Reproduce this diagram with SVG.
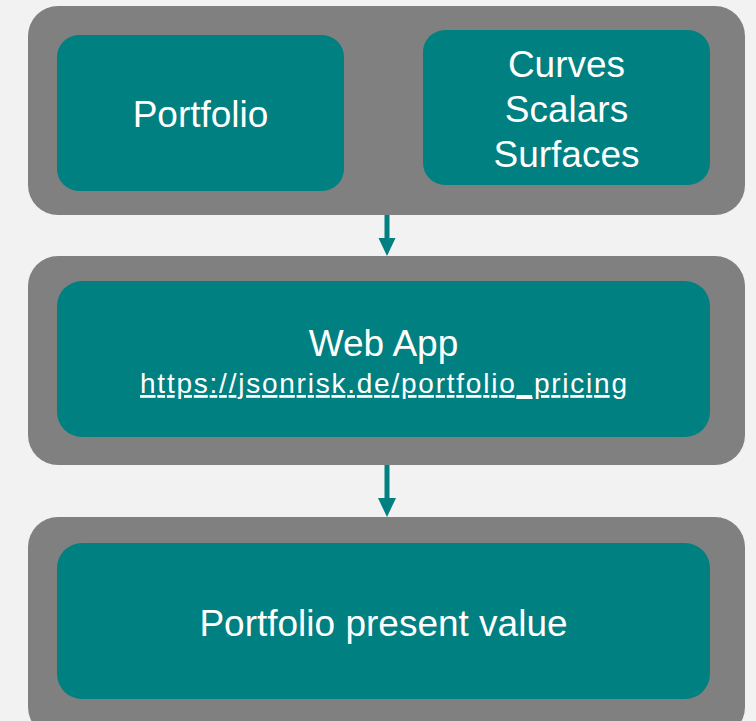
<svg xmlns="http://www.w3.org/2000/svg" width="756" height="721" viewBox="0 0 756 721">
<style>
.outer{fill:#808080}
.inner{fill:#008080}
.t{font-family:"Liberation Sans",Arial,sans-serif;fill:#ffffff;text-anchor:middle}
.big{font-size:37px}
.url{font-size:28px;text-decoration:underline}
.conn{stroke:#008080;stroke-width:5;fill:none}
.head{fill:#008080}
</style>
<rect x="0" y="0" width="756" height="721" fill="#f2f2f2"/>
<g id="inputs">
  <rect class="outer" x="28" y="6" width="717" height="209" rx="30" ry="30"/>
  <g id="portfolio">
    <rect class="inner" x="57" y="35" width="287" height="156" rx="22" ry="22"/>
    <text class="t big" x="200.5" y="127">Portfolio</text>
  </g>
  <g id="market-data">
    <rect class="inner" x="423" y="30" width="287" height="155" rx="22" ry="22"/>
    <text class="t big" x="566.5" y="77">Curves</text>
    <text class="t big" x="566.5" y="122">Scalars</text>
    <text class="t big" x="566.5" y="167">Surfaces</text>
  </g>
</g>
<g id="webapp">
  <rect class="outer" x="28" y="256" width="717" height="209" rx="30" ry="30"/>
  <rect class="inner" x="57" y="281" width="653" height="156" rx="25" ry="25"/>
  <text class="t big" x="383.5" y="356">Web App</text>
  <text class="t url" x="383.5" y="393" textLength="487" lengthAdjust="spacing">https://jsonrisk.de/portfolio_pricing</text>
</g>
<g id="result">
  <rect class="outer" x="28" y="517" width="717" height="220" rx="30" ry="30"/>
  <rect class="inner" x="57" y="543" width="653" height="156" rx="25" ry="25"/>
  <text class="t big" x="383.5" y="636">Portfolio present value</text>
</g>
<g id="connectors">
  <line class="conn" x1="387" y1="215" x2="387" y2="239"/>
  <polygon class="head" points="378.5,238 395.5,238 387,256"/>
  <line class="conn" x1="387" y1="465" x2="387" y2="499"/>
  <polygon class="head" points="378,498 396,498 387,517"/>
</g>
</svg>
